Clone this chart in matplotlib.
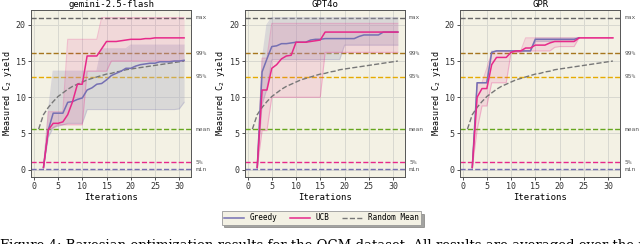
import numpy as np
import matplotlib.pyplot as plt
from matplotlib.transforms import blended_transform_factory

plt.rcParams['font.family'] = ['DejaVu Sans Mono']

# iterations
x_runs = list(range(2, 32))
x_runs_gpr_greedy = list(range(2, 25))
x_random = list(range(1, 32))

titles = ['gemini-2.5-flash', 'GPT4o', 'GPR']

# reference levels of the dataset
ref_names = ['max', '99%', '95%', 'mean', '5%', 'min']
ref_values = [21.0, 16.1, 12.8, 5.6, 1.0, 0.05]
ref_colors = ['#666666', '#a6761d', '#e6ab02', '#66a61e', '#e7298a', '#7570b3']

random_mean = [5.6, 7.6, 8.6, 9.4, 10.1, 10.6, 11.1, 11.5, 11.8, 12.1, 12.4, 12.6, 12.8,
               13.0, 13.2, 13.3, 13.5, 13.6, 13.8, 13.9, 14.0, 14.1, 14.2, 14.3, 14.4,
               14.5, 14.6, 14.7, 14.8, 14.9, 15.0]

# gemini-2.5-flash
gem_greedy = [0.3, 5.5, 7.8, 7.8, 7.8, 9.3, 9.4, 9.7, 9.9, 11.0, 11.3, 11.8, 11.9, 12.4, 13.0,
              13.3, 13.6, 14.0, 14.0, 14.3, 14.5, 14.6, 14.7, 14.7, 14.9, 14.9, 14.9, 15.0, 15.0, 15.1]
gem_greedy_lo = [0.3, 4.5, 5.8, 6.0, 6.2, 6.4, 6.4, 6.4, 6.4] + [8.3] * 19 + [8.4, 9.3]
gem_greedy_hi = [0.3, 8.0] + [13.6] * 10 + [16.7] * 6 + [17.2] * 12
gem_ucb = [0.3, 5.5, 6.4, 6.4, 6.6, 7.6, 9.4, 11.8, 11.8, 15.7, 15.7, 15.7, 16.7, 17.7, 17.7,
           17.7, 17.8, 17.9, 18.0, 18.0, 18.0, 18.1, 18.1, 18.2, 18.2, 18.2, 18.2, 18.2, 18.2, 18.2]
gem_ucb_lo = [0.3, 5.5, 5.8] + [6.2] * 6 + [13.6] * 5 + [15.0] * 16
gem_ucb_hi = [0.3] + [8.0] * 4 + [18.0] * 7 + [21.0] * 18

# GPT4o
gpt_greedy = [0.3, 13.5, 15.3, 17.0, 17.1, 17.4, 17.4, 17.5, 17.6, 17.6, 17.6, 17.9, 18.0, 18.0, 18.1,
              18.1, 18.1, 18.1, 18.1, 18.1, 18.1, 18.4, 18.6, 18.6, 18.6, 18.6, 19.0, 19.0, 19.0, 19.0]
gpt_greedy_lo = [0.3, 9.0, 11.2] + [15.2] * 15 + [17.2] * 12
gpt_greedy_hi = [0.3, 15.0, 20.0] + [21.0] * 27
gpt_ucb = [0.3, 11.0, 11.0, 14.0, 14.5, 15.3, 15.7, 15.8, 17.6, 17.6, 17.6, 17.7, 17.8, 17.9] + [19.0] * 16
gpt_ucb_lo = [0.3, 5.4, 5.4] + [10.0] * 11 + [16.2] * 16
gpt_ucb_hi = [0.3, 15.4, 15.4] + [20.2] * 27

# GPR
gpr_greedy = [0.3, 12.0, 12.0, 12.0, 16.2] + [16.4] * 8 + [18.0] * 9 + [18.2]
gpr_greedy_lo = [0.3, 12.0, 12.0, 12.0, 16.2] + [16.4] * 8 + [17.7] * 9 + [18.2]
gpr_greedy_hi = [0.3, 12.0, 12.0, 12.0, 16.4] + [16.4] * 8 + [18.2] * 9 + [18.2]
gpr_ucb = [0.3, 10.0, 11.2, 11.2, 14.5, 15.5, 15.5, 15.5, 16.2, 16.4, 16.4, 16.8, 16.8, 17.2, 17.2,
           17.2, 17.5, 17.7, 17.7, 17.7, 17.7, 17.7] + [18.2] * 8
gpr_ucb_lo = [0.3, 5.5, 8.8, 8.8, 12.0, 12.0, 12.0, 12.0, 16.2, 16.2, 16.2, 16.4, 16.4, 16.4, 16.4,
              16.4, 16.4, 16.9, 17.0, 17.0, 17.0, 17.0] + [18.2] * 8
gpr_ucb_hi = [0.3, 12.0, 12.0, 14.0, 16.2, 16.4, 16.4, 16.4, 16.4, 16.4, 16.4] + [18.2] * 19

paineis = [
    (x_runs, gem_greedy, gem_greedy_lo, gem_greedy_hi, gem_ucb, gem_ucb_lo, gem_ucb_hi),
    (x_runs, gpt_greedy, gpt_greedy_lo, gpt_greedy_hi, gpt_ucb, gpt_ucb_lo, gpt_ucb_hi),
    (x_runs_gpr_greedy, gpr_greedy, gpr_greedy_lo, gpr_greedy_hi, gpr_ucb, gpr_ucb_lo, gpr_ucb_hi),
]

cor_greedy = '#7570b3'
cor_ucb = '#e7298a'
fundo = '#f3f1e4'

fig = plt.figure(figsize=(6.4, 2.44), dpi=100)
lefts = [0.049, 0.383, 0.719]

for i, (xg, g, glo, ghi, u, ulo, uhi) in enumerate(paineis):
    ax = fig.add_axes([lefts[i], 0.275, 0.25, 0.684])
    ax.set_facecolor(fundo)

    # dataset reference levels
    for nome, val, cor in zip(ref_names, ref_values, ref_colors):
        ax.axhline(val, color=cor, ls='--', lw=1.0, zorder=2)
    trans = blended_transform_factory(ax.transAxes, ax.transData)
    for nome, val in zip(ref_names, ref_values):
        ax.text(1.025, val, nome, transform=trans, fontsize=4.5, color='#555555', va='center', ha='left')

    # spread of runs
    ax.fill_between(xg, glo, ghi, color='#b0b0c4', alpha=0.38, lw=0, zorder=3)
    ax.plot(xg, glo, color=cor_greedy, alpha=0.2, lw=0.8, zorder=3)
    ax.plot(xg, ghi, color=cor_greedy, alpha=0.2, lw=0.8, zorder=3)
    ax.fill_between(x_runs, ulo, uhi, color=cor_ucb, alpha=0.12, lw=0, zorder=3)
    ax.plot(x_runs, ulo, color=cor_ucb, alpha=0.25, lw=0.8, zorder=3)
    ax.plot(x_runs, uhi, color=cor_ucb, alpha=0.25, lw=0.8, zorder=3)

    ax.plot(x_random, random_mean, color='#777777', ls='--', lw=1.0, zorder=4, label='Random Mean')
    ax.plot(xg, g, color=cor_greedy, lw=1.1, zorder=5, label='Greedy')
    ax.plot(x_runs, u, color=cor_ucb, lw=1.1, zorder=6, label='UCB')

    ax.set_xticks([0, 5, 10, 15, 20, 25, 30])
    ax.set_yticks([0, 5, 10, 15, 20])
    ax.grid(True, color='#d8d8d0', lw=0.7, zorder=0)
    ax.set_axisbelow(True)
    ax.tick_params(labelsize=6, length=2.5, width=0.6, pad=1.5, colors='#333333')
    for s in ax.spines.values():
        s.set_color('#555555')
        s.set_linewidth(0.7)
    ax.set_title(titles[i], fontsize=6.5, pad=2)
    ax.set_xlabel('Iterations', fontsize=6.5, labelpad=1)
    ax.set_ylabel('Measured C$_2$ yield', fontsize=6, labelpad=1.5)

handles, labels = ax.get_legend_handles_labels()
ordem = [1, 2, 0]
leg = fig.legend([handles[k] for k in ordem], [labels[k] for k in ordem],
                 loc='center', bbox_to_anchor=(0.502, 0.107), ncol=3, fontsize=5.5,
                 frameon=True, fancybox=False, shadow=True, handlelength=2.6,
                 columnspacing=1.6, borderpad=0.3)
leg.get_frame().set_facecolor(fundo)
leg.get_frame().set_edgecolor('#999999')
leg.get_frame().set_linewidth(0.6)

fig.text(0.0, 0.022, 'Figure 4: Bayesian optimization results for the OCM dataset. All results are averaged over the runs, with the best in bold.',
         family='DejaVu Serif', fontsize=9.5, va='top', ha='left')

plt.savefig('out.png', dpi=100)
